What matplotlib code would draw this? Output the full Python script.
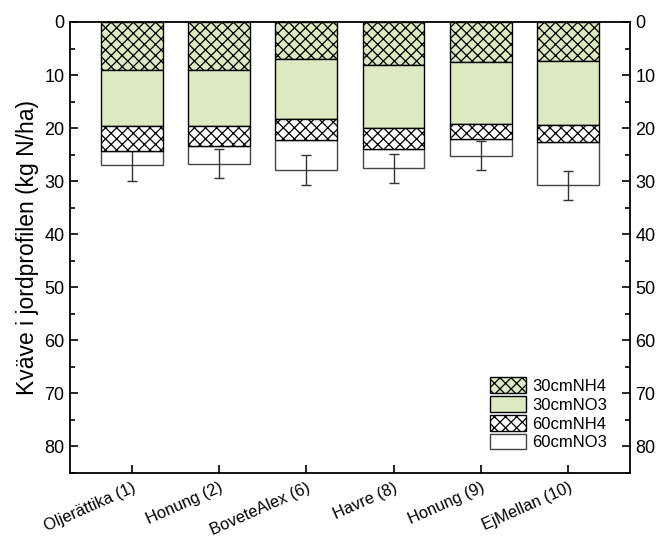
import matplotlib
matplotlib.use("Agg")
import matplotlib.pyplot as plt
import matplotlib.transforms as mtransforms
import numpy as np
from matplotlib.ticker import MultipleLocator

D = 100
k = 100 / D

plt.rcParams['font.family'] = ['Liberation Sans', 'DejaVu Sans']
plt.rcParams['hatch.linewidth'] = 0.9 * k

categories = ["Oljerättika (1)", "Honung (2)", "BoveteAlex (6)", "Havre (8)", "Honung (9)", "EjMellan (10)"]
nh4_30 = [9.1, 9.1, 7.0, 8.2, 7.6, 7.4]
no3_30 = [10.5, 10.5, 11.2, 11.7, 11.6, 12.0]
nh4_60 = [4.8, 3.7, 4.1, 4.0, 2.9, 3.3]
no3_60 = [2.6, 3.4, 5.6, 3.7, 3.1, 8.1]
errors = [2.9, 2.8, 2.8, 2.7, 2.7, 2.75]
series_names = ["30cmNH4", "30cmNO3", "60cmNH4", "60cmNO3"]

green = "#dde9c0"
fig = plt.figure(figsize=(661 / D, 539 / D), dpi=D)
ax = fig.add_axes([70/661, 1-472.7/539, 560/661, (472.7-22)/539])

x = np.arange(1, len(categories) + 1)
w = 0.706
b1 = np.array(nh4_30)
b2 = b1 + np.array(no3_30)
b3 = b2 + np.array(nh4_60)
tot = b3 + np.array(no3_60)

lw = 1.0 * k
h1 = ax.bar(x, nh4_30, w, bottom=0, color=green, edgecolor="black", hatch="xxx", lw=lw, zorder=3, label=series_names[0])
h2 = ax.bar(x, no3_30, w, bottom=b1, color=green, edgecolor="black", lw=lw, zorder=3, label=series_names[1])
h3 = ax.bar(x, nh4_60, w, bottom=b2, color="white", edgecolor="black", hatch="xxx", lw=lw, zorder=3, label=series_names[2])
h4 = ax.bar(x, no3_60, w, bottom=b3, color="white", edgecolor="#444444", lw=lw, zorder=2, label=series_names[3])
ax.errorbar(x, tot, yerr=errors, fmt="none", ecolor="#333333", elinewidth=lw, capsize=3.4 * k, capthick=lw, zorder=2.5)

ax.set_xlim(0.293, 6.708)
ax.set_ylim(85, 0)
ax.set_xticks(x)
ax.set_xticklabels(categories, rotation=24, ha="right", rotation_mode="anchor", fontsize=11.8 * k)
offset = mtransforms.ScaledTranslation(4 / D, 0, fig.dpi_scale_trans)
for lab in ax.get_xticklabels():
    lab.set_transform(lab.get_transform() + offset)
ax.yaxis.set_major_locator(MultipleLocator(10))
ax.yaxis.set_minor_locator(MultipleLocator(5))
ax.set_yticks(np.arange(0, 81, 10))
ax.tick_params(axis="y", which="both", direction="in", left=True, right=True, labelleft=True, labelright=True,
               labelsize=13 * k, pad=4 * k)
ax.tick_params(axis="y", which="major", length=6 * k, width=1.2 * k)
ax.tick_params(axis="y", which="minor", length=3.5 * k, width=1.2 * k)
ax.tick_params(axis="x", which="major", direction="in", length=6 * k, width=1.2 * k, pad=5.5 * k)
for s in ax.spines.values():
    s.set_linewidth(1.3 * k)
ax.set_ylabel("Kväve i jordprofilen (kg N/ha)", fontsize=16.5 * k, labelpad=4 * k)

ax.legend(handles=[h1, h2, h3, h4], loc="lower right", bbox_to_anchor=(0.965, 0.042), frameon=False,
          fontsize=12 * k, handlelength=2.15, handleheight=1.05, labelspacing=0.15, handletextpad=0.4,
          borderpad=0.2, borderaxespad=0.0)

fig.savefig("out.png", dpi=D)
